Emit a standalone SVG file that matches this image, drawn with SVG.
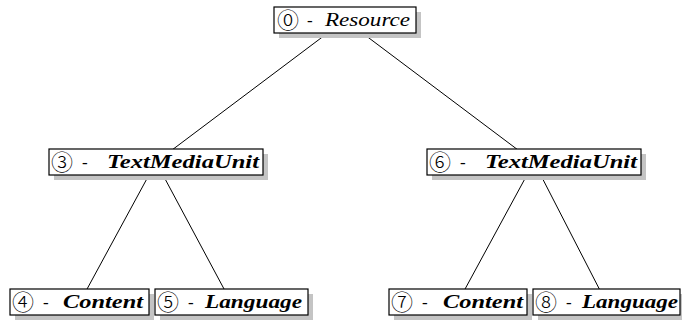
<svg xmlns="http://www.w3.org/2000/svg" width="682" height="320" viewBox="0 0 682 320">
<style>
.sh{fill:#c4c4c4;stroke:none}
.bx{fill:#fff;stroke:#000;stroke-width:1.2}
.cd{font-family:"Noto Sans CJK JP","DejaVu Sans",sans-serif;font-size:22px;font-weight:300;fill:#000}
.dash{font-family:"Liberation Serif",serif;font-size:17px;fill:#000}
.it{font-family:"Liberation Serif",serif;font-size:18px;font-style:italic;fill:#000}
.bi{font-family:"Liberation Serif",serif;font-size:18px;font-style:italic;font-weight:bold;fill:#000}
.e{stroke:#000;stroke-width:1;fill:none}
</style>
<rect width="682" height="320" fill="#fff"/>
<g id="edges">
<line class="e" x1="345" y1="20" x2="156" y2="162"/>
<line class="e" x1="345" y1="20" x2="534" y2="162"/>
<line class="e" x1="156" y1="162" x2="80" y2="302"/>
<line class="e" x1="156" y1="162" x2="231" y2="302"/>
<line class="e" x1="534" y1="162" x2="458" y2="302"/>
<line class="e" x1="534" y1="162" x2="606" y2="302"/>
</g>
<g id="n0">
<rect class="sh" x="279" y="12" width="142" height="26"/>
<rect class="bx" x="274" y="7" width="142" height="26"/>
<text class="cd" x="277" y="28">⓪</text>
<text class="dash" x="307" y="26">-</text>
<text class="it" x="325" y="26" textLength="85" lengthAdjust="spacingAndGlyphs">Resource</text>
</g>
<g id="n3">
<rect class="sh" x="54" y="154" width="214" height="26"/>
<rect class="bx" x="49" y="149" width="214" height="26"/>
<text class="cd" x="51" y="170">③</text>
<text class="dash" x="82" y="168">-</text>
<text class="bi" x="107" y="168" textLength="152" lengthAdjust="spacingAndGlyphs">TextMediaUnit</text>
</g>
<g id="n6">
<rect class="sh" x="432" y="154" width="214" height="26"/>
<rect class="bx" x="427" y="149" width="214" height="26"/>
<text class="cd" x="429" y="170">⑥</text>
<text class="dash" x="460" y="168">-</text>
<text class="bi" x="485" y="168" textLength="152" lengthAdjust="spacingAndGlyphs">TextMediaUnit</text>
</g>
<g id="n4">
<rect class="sh" x="15" y="294" width="139" height="26"/>
<rect class="bx" x="10" y="289" width="139" height="26"/>
<text class="cd" x="12" y="310">④</text>
<text class="dash" x="43" y="308">-</text>
<text class="bi" x="63" y="308" textLength="80" lengthAdjust="spacingAndGlyphs">Content</text>
</g>
<g id="n5">
<rect class="sh" x="160" y="294" width="153" height="26"/>
<rect class="bx" x="155" y="289" width="153" height="26"/>
<text class="cd" x="157" y="310">⑤</text>
<text class="dash" x="188" y="308">-</text>
<text class="bi" x="205" y="308" textLength="97" lengthAdjust="spacingAndGlyphs">Language</text>
</g>
<g id="n7">
<rect class="sh" x="394" y="294" width="138" height="26"/>
<rect class="bx" x="389" y="289" width="138" height="26"/>
<text class="cd" x="391" y="310">⑦</text>
<text class="dash" x="422" y="308">-</text>
<text class="bi" x="443" y="308" textLength="80" lengthAdjust="spacingAndGlyphs">Content</text>
</g>
<g id="n8">
<rect class="sh" x="538" y="294" width="150" height="26"/>
<rect class="bx" x="533" y="289" width="147" height="26"/>
<text class="cd" x="535" y="310">⑧</text>
<text class="dash" x="566" y="308">-</text>
<text class="bi" x="582" y="308" textLength="96" lengthAdjust="spacingAndGlyphs">Language</text>
</g>
</svg>
